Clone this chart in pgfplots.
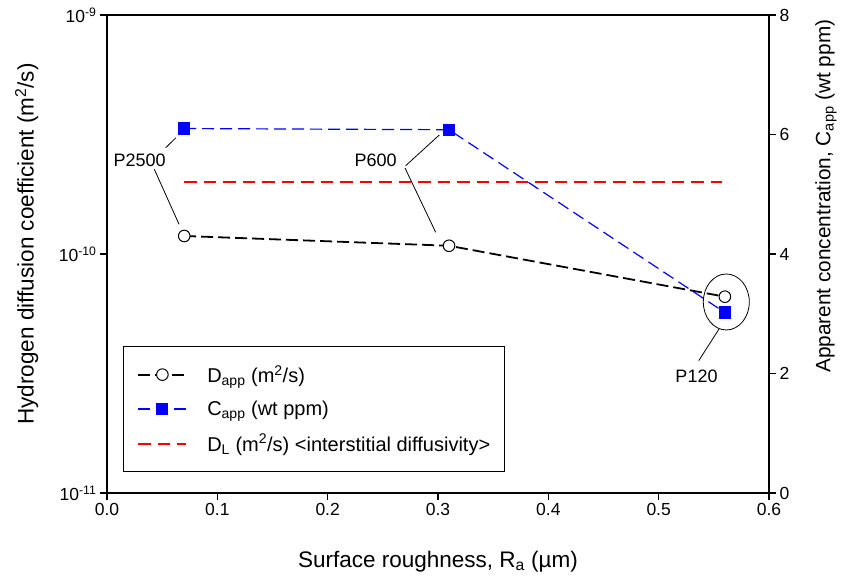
\documentclass[border=0pt]{standalone}
\usepackage{fontspec}
\setmainfont{Liberation Sans}
\usepackage{pgfplots}
\usepackage{pgfplotstable}
\pgfplotsset{compat=1.18}

% apparent diffusivity (m^2/s) vs. surface roughness Ra (um)
\pgfplotstableread{
x D
0.07 1.19e-10
0.31 1.083e-10
0.56 6.63e-11
}\Dapp
% apparent hydrogen concentration (wt ppm)
\pgfplotstableread{
x C
0.07 6.10
0.31 6.08
0.56 3.02
}\Capp
% lattice (interstitial) diffusivity
\pgfplotstableread{
x D
0.07 2.0e-10
0.557 2.0e-10
}\DL

\newcommand{\tickfont}{\fontsize{17.5}{20}\selectfont}
\newcommand{\labelfont}{\fontsize{22.5}{26}\selectfont}
\newcommand{\rlabelfont}{\fontsize{20.8}{24}\selectfont}
\newcommand{\legfont}{\fontsize{20}{23}\selectfont}
\newcommand{\annfont}{\fontsize{18}{21}\selectfont}

\begin{document}
\begin{tikzpicture}
\pgfplotsset{
  common/.style={
    scale only axis, width=662pt, height=478pt,
    at={(0pt,0pt)}, anchor=south west,
    xmin=0, xmax=0.6,
    tick align=outside, major tick length=7pt,
    every tick/.style={line width=1.1pt, black},
    axis line style={line width=1.3pt},
    tick label style={font=\tickfont},
    /pgf/number format/assume math mode=true,
    label style={font=\labelfont},
  },
  dapp/.style={black, line width=1.8pt, dash pattern=on 12pt off 5pt,
    mark=*, mark size=5.8pt,
    mark options={solid, fill=white, draw=black, line width=1pt}},
  capp/.style={blue, line width=1.2pt, dash pattern=on 12pt off 6pt,
    mark=square*, mark size=5.5pt,
    mark options={solid, fill=blue, draw=blue}},
  dl/.style={color=red, line width=1.4pt, dash pattern=on 12.5pt off 7pt},
}
\begin{axis}[common,
  ymode=log, ymin=1e-11, ymax=1e-9,
  ytick={1e-11,1e-10,1e-9},
  yticklabels={10\textsuperscript{-11},10\textsuperscript{-10},10\textsuperscript{-9}},
  yminorticks=false,
  xtick={0,0.1,0.2,0.3,0.4,0.5,0.6},
  xtick pos=left, ytick pos=left,
  xticklabel style={/pgf/number format/fixed,
    /pgf/number format/fixed zerofill,
    /pgf/number format/precision=1},
  xlabel={Surface roughness, R\textsubscript{a} (µm)},
  ylabel={Hydrogen diffusion coefficient (m\textsuperscript{2}/s)},
  xlabel style={at={(axis description cs:0.5,-0.1437)}, anchor=center},
  ylabel style={at={(axis description cs:-0.1213,0.521)}, anchor=center},
]
\addplot[dl] table[x=x, y=D] {\DL};
\addplot[dapp] table[x=x, y=D] {\Dapp};
\end{axis}

\begin{axis}[common,
  ymin=0, ymax=8, ytick={0,2,4,6,8},
  axis x line=none, axis y line*=right,
  ylabel={Apparent concentration, C\textsubscript{app} (wt ppm)},
  ylabel style={at={(axis description cs:1.086,0.621)}, anchor=center,
    font=\rlabelfont},
  legend cell align=left,
  legend image code/.code={%
    \draw[mark repeat=2, mark phase=2, #1]
      plot coordinates {(0pt,0pt) (24pt,0pt) (48pt,0pt)};
    \path (68pt,0pt);},
  legend style={at={(0.0242,0.308)}, anchor=north west,
    draw=black, line width=0.9pt, fill=white,
    font=\legfont, inner xsep=14pt, inner ysep=19pt,
    row sep=17pt, nodes={inner sep=0pt}},
]
\addlegendimage{dapp}
\addlegendentry{D\textsubscript{app} (m\textsuperscript{2}/s)}
\addplot[capp] table[x=x, y=C] {\Capp};
\addlegendentry{C\textsubscript{app} (wt ppm)}
\addlegendimage{dl, yshift=-0.5pt}
\addlegendentry{D\textsubscript{L} (m\textsuperscript{2}/s) <interstitial diffusivity>}

% sample labels and leader lines
\draw[line width=0.8pt] (axis cs:0.0532,5.779) -- (axis cs:0.0625,5.946);
\draw[line width=0.8pt] (axis cs:0.0429,5.418) -- (axis cs:0.0653,4.497);
\node[font=\annfont, inner sep=0pt] at (axis cs:0.0295,5.573) {P2500};
\draw[line width=0.8pt] (axis cs:0.2707,5.478) -- (axis cs:0.3012,5.992);
\draw[line width=0.8pt] (axis cs:0.2701,5.439) -- (axis cs:0.2979,4.363);
\node[font=\annfont, inner sep=0pt] at (axis cs:0.2435,5.573) {P600};
\draw[line width=0.8pt] (axis cs:0.5363,2.214) -- (axis cs:0.5547,2.745);
\draw[line width=0.8pt] (axis cs:0.5613,3.197) ellipse [x radius=23pt, y radius=28pt];
\node[font=\annfont, inner sep=0pt] at (axis cs:0.5343,1.958) {P120};
\end{axis}
\pgfresetboundingbox
\path[use as bounding box] (-107pt,-86pt) rectangle (734pt,493pt);
\end{tikzpicture}
\end{document}
